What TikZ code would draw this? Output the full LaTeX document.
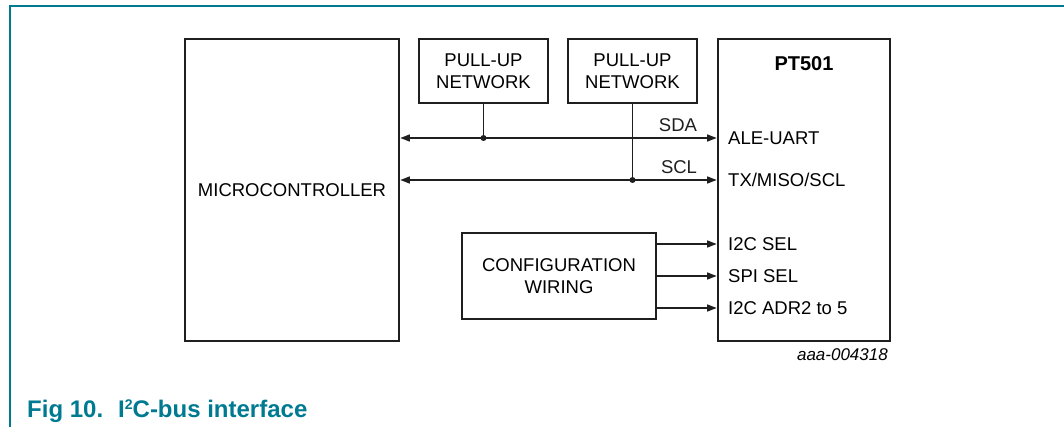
\documentclass[tikz,border=0pt]{standalone}
\usepackage{fontspec}
\setmainfont{Liberation Sans}
\usepackage{xcolor}
\usepackage{tikz}
\usetikzlibrary{arrows.meta}
\definecolor{figTeal}{RGB}{0,122,145}
\newcommand{\boxLine}{2.7pt}
\newcommand{\wireLine}{1.3pt}
\newcommand{\dotRadius}{3pt}
\newcommand{\pinTextX}{728}
\newcommand{\cfgPinNames}{0/244/I2C SEL, 1/276/SPI SEL, 2/308/I2C ADR2 to 5} % number/y/name
\tikzset{
	block/.style={draw=black!88, line width=\boxLine, inner sep=0pt, align=center, font=\fontsize{18.5}{22}\selectfont},
	pinlabel/.style={anchor=west, inner sep=0pt, font=\fontsize{18.5}{22}\selectfont},
	busname/.style={anchor=south east, inner sep=0pt, xshift=-19pt, yshift=6pt, font=\fontsize{18.5}{22}\selectfont},
	wire/.style={line width=\wireLine, black!88},
	tip/.tip={Triangle[length=9.5pt,width=7pt]}
}
\begin{document}
\begin{tikzpicture}[x=1pt,y=-1pt]
	\useasboundingbox (0,0) rectangle (1064,427);
	\draw[figTeal, line width=1.5pt] (10,427) -- (10,6) -- (1064,6); % page frame

	\node[block, minimum width=214pt, minimum height=302pt] (micro) at (292,190) {MICROCONTROLLER};
	\node[block, minimum width=129pt, minimum height=64pt] (pullupA) at (483.5,71) {PULL-UP\\NETWORK};
	\node[block, minimum width=129pt, minimum height=64pt] (pullupB) at (632.5,71) {PULL-UP\\NETWORK};
	\node[block, minimum width=172pt, minimum height=302pt] (pt) at (804,190) {};
	\node[block, minimum width=194pt, minimum height=86pt] (cfg) at (559,276) {CONFIGURATION\\WIRING};
	\node[inner sep=0pt, font=\bfseries\fontsize{20}{24}\selectfont] (ptname) at ([yshift=-26pt]pt.north) {PT501};

	% bus lines
	\node[pinlabel] (ale) at (\pinTextX,138) {ALE-UART};
	\node[pinlabel] (tx) at (\pinTextX,180) {TX/MISO/SCL};
	\coordinate (sda) at (0,138);
	\coordinate (scl) at (0,180);
	\draw[wire, tip-tip] (micro.east |- sda) -- (pt.west |- sda) node[busname] {SDA};
	\draw[wire, tip-tip] (micro.east |- scl) -- (pt.west |- scl) node[busname] {SCL};
	\draw[wire] (pullupA.south) -- (pullupA.south |- sda);
	\draw[wire] (pullupB.south) -- (pullupB.south |- scl);
	\fill[black!88] (pullupA.south |- sda) circle (\dotRadius);
	\fill[black!88] (pullupB.south |- scl) circle (\dotRadius);

	% configuration pins
	\foreach \pinNumber/\pinY/\name in \cfgPinNames
	{
		\node[pinlabel] (cfgpin\pinNumber) at (\pinTextX,\pinY) {\name};
		\draw[wire, -tip] (cfg.east |- cfgpin\pinNumber.west) -- (pt.west |- cfgpin\pinNumber.west);
	}

	\node[anchor=east, inner sep=0pt, font=\itshape\fontsize{17}{20}\selectfont] (figid) at (888,355) {aaa-004318};
	\node[anchor=base west, inner sep=0pt, text=figTeal, font=\bfseries\fontsize{24}{28}\selectfont] (caption) at (27,417) {Fig 10.\hspace{15pt}I\raisebox{8pt}{\fontsize{14}{14}\selectfont 2}C-bus interface};
\end{tikzpicture}
\end{document}
